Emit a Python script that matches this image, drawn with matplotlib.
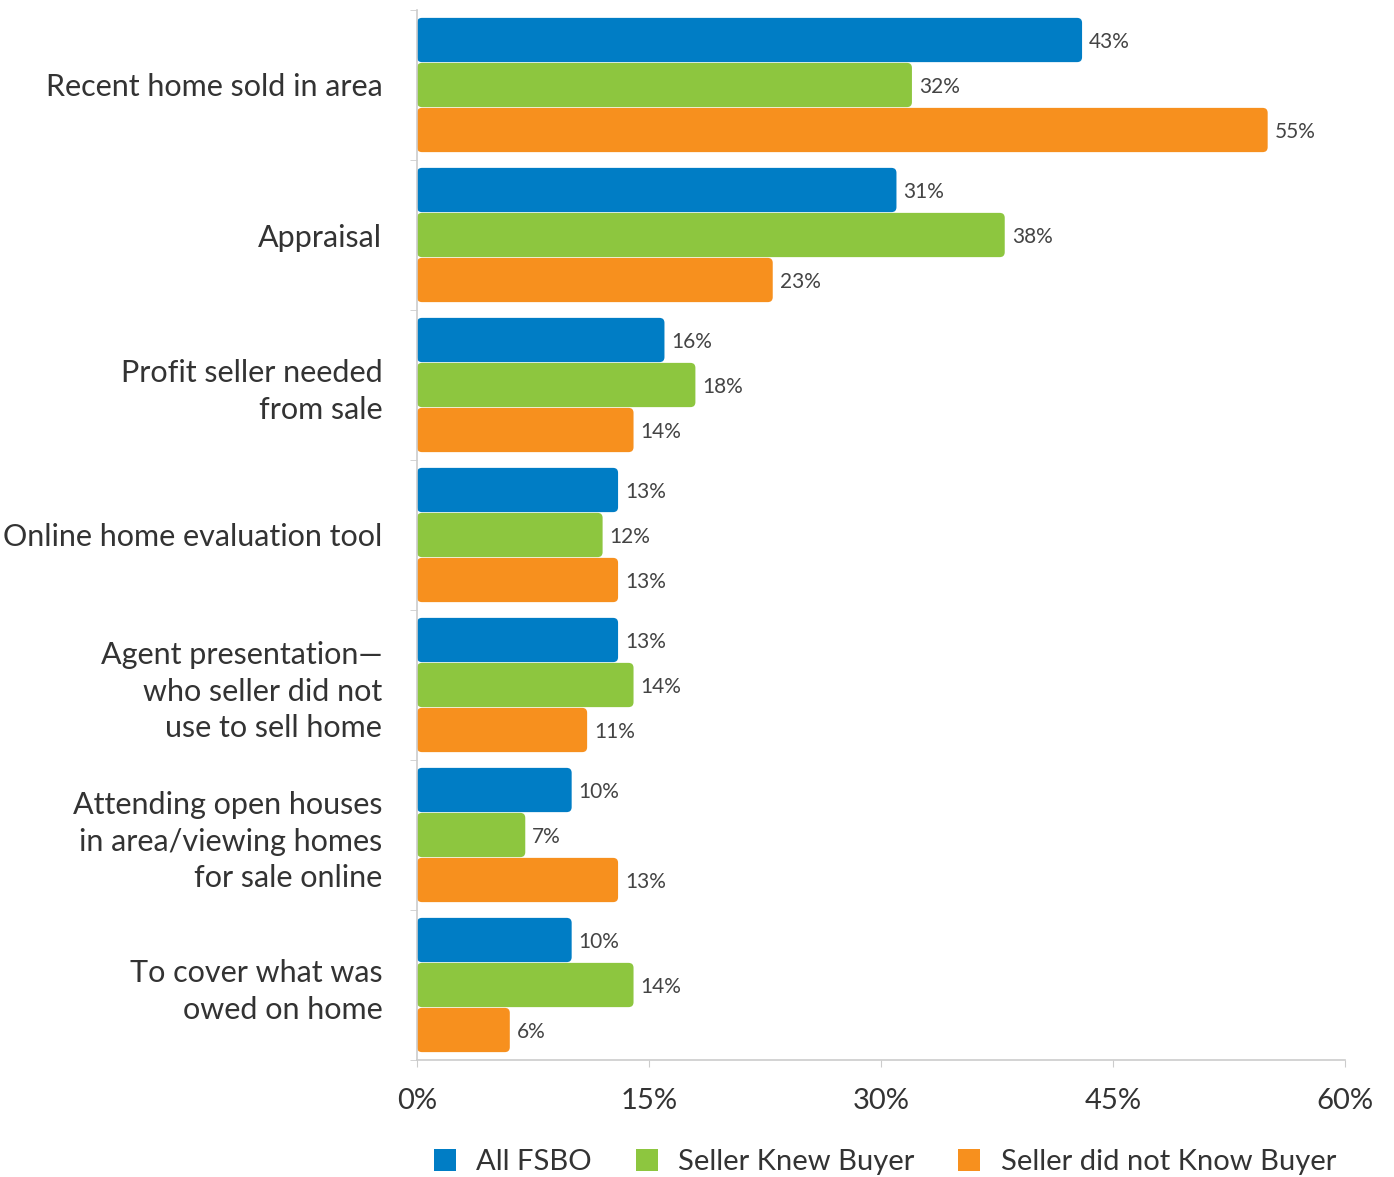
import numpy as np
import matplotlib
matplotlib.use("Agg")
import matplotlib.pyplot as plt
from matplotlib.patches import FancyBboxPatch, Patch

categories = ["Recent home sold in area", "Appraisal", "Profit seller needed\nfrom sale",
              "Online home evaluation tool", "Agent presentation\u2014\nwho seller did not\nuse to sell home",
              "Attending open houses\nin area/viewing homes\nfor sale online", "To cover what was\nowed on home"]
all_fsbo = [43, 31, 16, 13, 13, 10, 10]
knew_buyer = [32, 38, 18, 12, 14, 7, 14]
not_knew_buyer = [55, 23, 14, 13, 11, 13, 6]
series_names = ["All FSBO", "Seller Knew Buyer", "Seller did not Know Buyer"]
colors = ["#007DC5", "#8DC63F", "#F7901E"]

plt.rcParams["font.family"] = ["Lato", "DejaVu Sans"]
TEXT = "#333333"
GRID = "#cccccc"

fig = plt.figure(figsize=(13.94, 11.77), dpi=100)
ax = fig.add_axes([417 / 1394, 1 - 1060 / 1177, 928 / 1394, 1050 / 1177])

y = np.arange(len(categories))
offsets = [-0.3, 0.0, 0.3]
h = 0.295
# px -> data units, for rounded corners
x_per_px = 60 / 928
y_per_px = 7 / 1050
aspect = y_per_px / x_per_px

for vals, off, col in zip([all_fsbo, knew_buyer, not_knew_buyer], offsets, colors):
    bars = ax.barh(y + off, vals, height=h, color=col, alpha=0)
    for b, v in zip(bars, vals):
        p = FancyBboxPatch((b.get_x(), b.get_y()), b.get_width(), b.get_height(),
                           boxstyle="round,pad=0,rounding_size=%f" % (5 * x_per_px),
                           mutation_aspect=aspect, facecolor=col, edgecolor="none")
        ax.add_patch(p)
        ax.text(v + 7 * x_per_px, b.get_y() + b.get_height() / 2 + 0.015, f"{v}%",
                va="center", ha="left", fontsize=15, color="#444444")

ax.set_xlim(0, 60)
ax.set_ylim(6.5, -0.5)
ax.set_xticks([0, 15, 30, 45, 60])
ax.set_xticklabels([f"{t}%" for t in [0, 15, 30, 45, 60]], fontsize=21, color=TEXT)
ax.tick_params(axis="x", length=5, color=GRID, pad=15)
ax.set_yticks(y)
ax.set_yticklabels(categories, fontsize=22, color=TEXT, linespacing=1.37)
ax.tick_params(axis="y", which="major", length=0, pad=25)
ax.set_yticks(np.arange(-0.5, 7, 1), minor=True)
ax.tick_params(axis="y", which="minor", length=5, color=GRID)

for s in ["top", "right"]:
    ax.spines[s].set_visible(False)
for s in ["left", "bottom"]:
    ax.spines[s].set_color(GRID)
    ax.spines[s].set_linewidth(1.2)

handles = [Patch(facecolor=c, edgecolor="none") for c in colors]
fig.legend(handles, series_names, loc="center", bbox_to_anchor=(885 / 1394, 1 - 1162 / 1177),
           ncol=3, frameon=False, fontsize=21, handlelength=0.75, handleheight=0.75,
           handletextpad=0.7, columnspacing=1.5, labelcolor=TEXT)

fig.savefig("out.png", dpi=100)
